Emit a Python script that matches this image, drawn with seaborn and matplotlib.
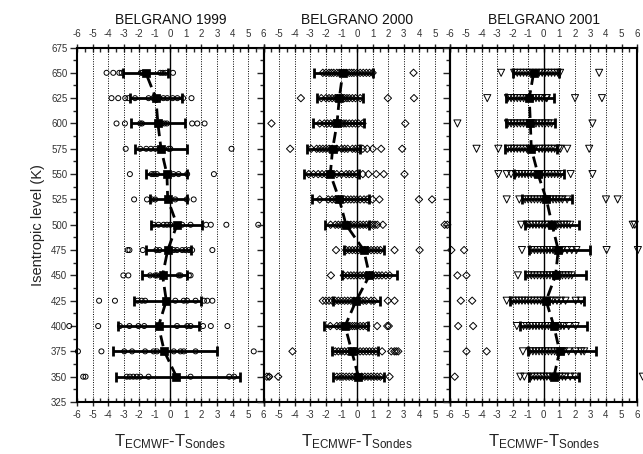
import matplotlib
matplotlib.use("Agg")
import matplotlib.pyplot as plt
from matplotlib.ticker import MultipleLocator
import numpy as np
import pandas as pd
import seaborn as sns

# ---------------- data ----------------
LEVELS = [350, 375, 400, 425, 450, 475, 500, 525, 550, 575, 600, 625, 650]
TITLES = ["BELGRANO 1999", "BELGRANO 2000", "BELGRANO 2001"]
X_TICKS = [-6, -5, -4, -3, -2, -1, 0, 1, 2, 3, 4, 5, 6]

MEAN_1999 = [0.39, -0.39, -0.76, -0.26, -0.50, -0.17, 0.43, -0.17, -0.22, -0.60, -0.80, -0.93, -1.58]
LO_1999 = [-3.50, -3.67, -3.35, -2.33, -1.80, -1.56, -1.25, -1.30, -1.56, -2.27, -2.53, -2.60, -3.02]
HI_1999 = [4.49, 2.98, 1.84, 1.94, 1.08, 1.30, 2.05, 1.08, 1.08, 1.08, 0.97, 0.76, -0.17]
PTS_1999 = [
    [-5.6, -5.45, -2.8, -2.6, -2.38, -2.16, -1.94, -1.4, 1.3, 3.78, 4.1, 6.37],
    [-5.94, -4.43, -2.96, -2.46, -1.62, -1.08, -0.86, 0.22, 0.65, 0.86, 1.62, 5.36],
    [-6.5, -4.64, -3.24, -2.63, -2.05, -1.68, -0.65, 0.43, 1.08, 1.3, 2.1, 2.6, 3.67],
    [-4.58, -3.56, -2.1, -1.84, -1.62, 0.32, 0.86, 1.08, 1.62, 2.16, 2.37, 2.7],
    [-3.02, -2.7, -1.3, -0.97, -0.86, 0.54, 0.65, 1.19, 1.3],
    [-2.74, -2.63, -1.77, -0.9, -0.7, 0.22, 0.43, 0.76, 0.97, 1.19, 1.4, 2.7],
    [-1.08, -0.76, -0.43, -0.22, 0.0, 0.76, 1.3, 2.3, 2.6, 3.6, 5.65],
    [-2.33, -1.5, -1.18, -0.97, 0.32, 1.05, 1.5],
    [-2.6, -1.2, -1.05, -0.86, 0.2, 0.53, 1.08, 2.8],
    [-2.87, -1.94, -1.55, -1.25, -0.97, -0.1, 0.0, 3.93],
    [-3.46, -2.92, -1.94, -1.82, -0.54, -0.38, -0.22, 1.4, 1.73, 2.2],
    [-3.78, -3.35, -2.9, -2.7, -2.27, -1.4, -1.1, -0.7, -0.45, -0.2, 0.15, 0.45, 0.82, 1.36],
    [-4.1, -3.67, -3.28, -3.13, -1.9, -1.78, -0.65, -0.48, -0.3, 0.17],
]

MEAN_2000 = [0.09, -0.34, -0.77, -0.06, 0.80, 0.43, -0.71, -1.14, -1.72, -1.57, -1.29, -1.14, -0.92]
LO_2000 = [-1.57, -1.63, -2.15, -1.57, -0.99, -0.86, -2.06, -2.92, -3.44, -3.23, -2.80, -2.58, -2.75]
HI_2000 = [1.76, 1.33, 0.73, 1.50, 2.58, 1.72, 0.80, 0.80, 0.15, 0.22, 0.47, 0.37, 1.01]
PTS_2000 = [
    [-5.8, -5.65, -5.07, -1.3, -1.1, -0.9, -0.7, -0.5, -0.3, -0.1, 0.1, 0.3, 0.5, 0.7, 0.9, 1.1, 1.3, 1.5, 2.09, 6.28],
    [-4.15, -1.4, -1.2, -1.0, -0.8, -0.6, -0.4, -0.2, 0.0, 0.2, 0.4, 0.6, 0.8, 1.0, 1.2, 1.61, 2.2, 2.4, 2.52, 2.65, 7.03, 8.33],
    [-1.72, -1.3, -1.1, -0.9, -0.75, -0.6, -0.45, -0.3, -0.15, 0.0, 0.2, 0.4, 0.6, 1.29, 1.94, 2.04, 6.5, 7.46],
    [-2.2, -2.0, -1.8, -1.6, -1.4, -1.2, -1.0, -0.8, -0.6, -0.4, -0.2, 0.0, 0.2, 0.4, 0.6, 0.9, 1.1, 1.98, 2.41, 6.67, 7.4],
    [-1.68, -0.85, -0.6, -0.4, -0.2, 0.0, 0.2, 0.4, 0.6, 0.8, 1.0, 1.2, 1.4, 1.6, 1.85, 2.1, 6.45, 7.03],
    [-1.35, -0.7, -0.5, -0.3, -0.1, 0.1, 0.3, 0.5, 0.7, 0.9, 1.1, 1.3, 1.5, 2.41, 4.02, 6.06, 6.88],
    [-1.7, -1.4, -1.2, -1.0, -0.8, -0.6, -0.4, -0.2, 0.0, 0.2, 0.4, 0.6, 0.85, 1.0, 1.15, 1.3, 1.66, 5.63, 5.8],
    [-2.4, -1.85, -1.6, -1.4, -1.2, -1.0, -0.8, -0.6, -0.4, -0.2, 0.0, 0.2, 0.45, 0.65, 1.0, 1.44, 3.98, 4.82],
    [-3.1, -2.8, -2.5, -2.25, -2.0, -1.8, -1.6, -1.3, -1.0, -0.7, -0.5, -0.3, -0.05, 0.37, 0.73, 1.23, 1.72, 3.05],
    [-4.3, -2.95, -2.6, -2.4, -2.2, -2.0, -1.8, -1.6, -1.3, -1.0, -0.8, -0.6, -0.3, -0.1, 0.1, 0.37, 0.65, 1.01, 1.55, 2.9],
    [-5.5, -2.4, -2.1, -1.9, -1.7, -1.5, -1.35, -1.2, -1.0, -0.85, -0.7, -0.5, -0.3, -0.1, 0.1, 0.35, 3.1],
    [-3.61, -2.3, -2.0, -1.8, -1.6, -1.4, -1.25, -1.1, -0.95, -0.8, -0.65, -0.5, -0.3, -0.1, 0.2, 1.98, 3.66],
    [-2.2, -2.0, -1.8, -1.65, -1.5, -1.3, -1.15, -1.0, -0.85, -0.7, -0.5, -0.35, -0.2, 0.0, 0.2, 0.4, 0.6, 0.8, 1.0, 3.63],
]

MEAN_2001 = [0.65, 1.02, 0.65, 0.15, 0.76, 0.93, 0.54, 0.17, -0.37, -0.80, -0.86, -0.93, -0.65]
LO_2001 = [-0.93, -1.02, -1.51, -2.16, -1.23, -0.97, -1.23, -1.40, -1.94, -2.48, -2.42, -2.44, -1.99]
HI_2001 = [2.27, 3.39, 2.81, 2.59, 2.74, 2.96, 2.27, 1.79, 1.30, 0.86, 0.71, 0.65, 0.97]
PTS_2001 = [
    [-1.51, -1.25, -0.8, -0.6, -0.4, -0.2, 0.0, 0.2, 0.4, 0.6, 0.8, 1.0, 1.2, 1.4, 1.7, 2.0, 6.37],
    [-1.34, -0.9, -0.7, -0.5, -0.3, -0.1, 0.1, 0.3, 0.5, 0.7, 0.9, 1.1, 1.3, 1.6, 2.05, 2.4, 2.6],
    [-1.73, -1.3, -1.1, -0.9, -0.7, -0.5, -0.3, -0.1, 0.1, 0.3, 0.5, 0.7, 0.9, 1.1, 1.3, 1.6, 2.05],
    [-2.38, -2.0, -1.8, -1.6, -1.4, -1.2, -1.0, -0.8, -0.6, -0.4, -0.2, 0.0, 0.2, 0.4, 0.6, 0.85, 1.1, 1.4, 2.05, 2.4],
    [-1.66, -1.0, -0.8, -0.6, -0.4, -0.2, 0.0, 0.2, 0.4, 0.6, 0.8, 1.0, 1.2, 1.4, 1.6, 1.8],
    [-1.4, -0.8, -0.6, -0.4, -0.2, 0.0, 0.2, 0.4, 0.6, 0.8, 1.0, 1.2, 1.5, 1.8, 2.1, 4.04, 6.05],
    [-1.45, -1.1, -0.9, -0.7, -0.5, -0.3, -0.1, 0.1, 0.3, 0.5, 0.7, 0.9, 1.1, 1.3, 1.5, 1.7, 5.72, 5.85],
    [-2.38, -1.57, -1.2, -1.0, -0.8, -0.6, -0.4, -0.2, 0.0, 0.2, 0.4, 0.6, 0.8, 1.0, 1.2, 1.5, 4.0, 4.75],
    [-2.92, -2.38, -2.1, -1.8, -1.6, -1.4, -1.2, -1.0, -0.8, -0.6, -0.3, -0.1, 0.1, 0.3, 0.5, 0.7, 0.9, 1.1, 1.73, 3.13],
    [-4.32, -2.92, -2.3, -2.1, -1.9, -1.7, -1.5, -1.3, -1.1, -0.9, -0.6, -0.3, -0.1, 0.1, 0.3, 0.5, 0.7, 0.97, 1.08, 1.51, 2.92],
    [-5.55, -2.3, -2.1, -1.9, -1.7, -1.5, -1.3, -1.1, -0.9, -0.7, -0.5, -0.3, -0.1, 0.1, 0.3, 0.5, 3.13],
    [-3.63, -2.3, -2.1, -1.9, -1.7, -1.5, -1.3, -1.1, -0.9, -0.7, -0.5, -0.3, -0.1, 0.15, 0.2, 2.01, 3.74],
    [-2.74, -1.9, -1.7, -1.5, -1.3, -1.1, -0.9, -0.7, -0.5, -0.3, -0.1, 0.1, 0.3, 0.5, 0.7, 0.9, 1.05, 3.56],
]

PANELS = [
    (MEAN_1999, LO_1999, HI_1999, PTS_1999, "o", 13),
    (MEAN_2000, LO_2000, HI_2000, PTS_2000, "D", 14),
    (MEAN_2001, LO_2001, HI_2001, PTS_2001, "v", 26),
]

# ---------------- figure ----------------
sns.set_theme(style="ticks")
plt.rcParams["font.family"] = ["Liberation Sans", "DejaVu Sans"]
plt.rcParams["mathtext.fontset"] = "custom"
plt.rcParams["mathtext.rm"] = "Liberation Sans"
plt.rcParams["mathtext.it"] = "Liberation Sans"

W, H = 643, 454
fig = plt.figure(figsize=(W / 100, H / 100), dpi=100)
ax_left0, ax_w = 77 / W, 186.7 / W
ax_bot, ax_h = 1 - 402 / H, (402 - 47.5) / H

for i, (mean, lo, hi, pts, mk, ms) in enumerate(PANELS):
    ax = fig.add_axes([ax_left0 + i * ax_w, ax_bot, ax_w, ax_h])
    ax.set_facecolor("none")

    for gx in X_TICKS[1:-1]:
        if gx == 0:
            ax.axvline(gx, color="black", lw=1.0, zorder=1)
        else:
            ax.axvline(gx, color="black", lw=0.7, ls=(0, (1, 1.5)), zorder=1)

    rows = [(v, lev) for lev, vals in zip(LEVELS, pts) for v in vals]
    df = pd.DataFrame(rows, columns=["diff", "level"])
    sns.scatterplot(data=df, x="diff", y="level", ax=ax, marker=mk, s=ms,
                    facecolor="none", edgecolor="black", linewidth=0.7,
                    clip_on=False, zorder=2, legend=False)

    mean_a = np.array(mean)
    ax.errorbar(mean_a, LEVELS, xerr=[mean_a - np.array(lo), np.array(hi) - mean_a],
                fmt="none", ecolor="black", elinewidth=2.0, capsize=3.5,
                capthick=2.0, zorder=3)
    dfm = pd.DataFrame({"diff": mean, "level": LEVELS})
    sns.lineplot(data=dfm, x="diff", y="level", ax=ax, sort=False, estimator=None,
                 color="black", lw=2.0, linestyle=(0, (4, 2)), zorder=4)
    sns.scatterplot(data=dfm, x="diff", y="level", ax=ax, marker="s", s=40,
                    color="black", edgecolor="black", zorder=5, legend=False)

    ax.set_xlim(-6, 6)
    ax.set_ylim(325, 675)
    ax.set_xticks(X_TICKS)
    if i == 1:
        labels = [""] + [str(t) for t in X_TICKS[1:-1]] + [""]
    else:
        labels = [str(t) for t in X_TICKS]
    ax.set_xticklabels(labels)
    ax.xaxis.set_minor_locator(MultipleLocator(0.5))
    ax.yaxis.set_major_locator(MultipleLocator(25))
    ax.yaxis.set_minor_locator(MultipleLocator(12.5))
    ax.tick_params(axis="x", which="major", direction="inout", length=6, width=1,
                   top=True, bottom=True, labeltop=True, labelbottom=True,
                   labelsize=7, labelcolor="#333333", pad=3)
    ax.tick_params(axis="x", which="minor", direction="in", length=3, width=1,
                   top=True, bottom=True)
    ax.tick_params(axis="y", which="major", direction="out", length=5, width=1,
                   labelsize=7, labelcolor="#333333", pad=2)
    ax.tick_params(axis="y", which="minor", direction="out", length=3, width=1)
    if i > 0:
        ax.tick_params(axis="y", labelleft=False)
        ax.set_ylabel("")
    else:
        ax.set_ylabel("Isentropic level (K)", fontsize=10.5, color="#222222", labelpad=4)
    ax.set_xlabel("")
    for sp in ax.spines.values():
        sp.set_linewidth(1.5)
        sp.set_color("black")
    ax.set_title(TITLES[i], fontsize=10, color="#111111", pad=4)
    ax.text(0.5, -0.125, r"$\mathrm{T}_{\mathrm{ECMWF}}$-$\mathrm{T}_{\mathrm{Sondes}}$",
            transform=ax.transAxes, ha="center", va="baseline", fontsize=12,
            color="#222222")

fig.savefig("out.png", dpi=100)
